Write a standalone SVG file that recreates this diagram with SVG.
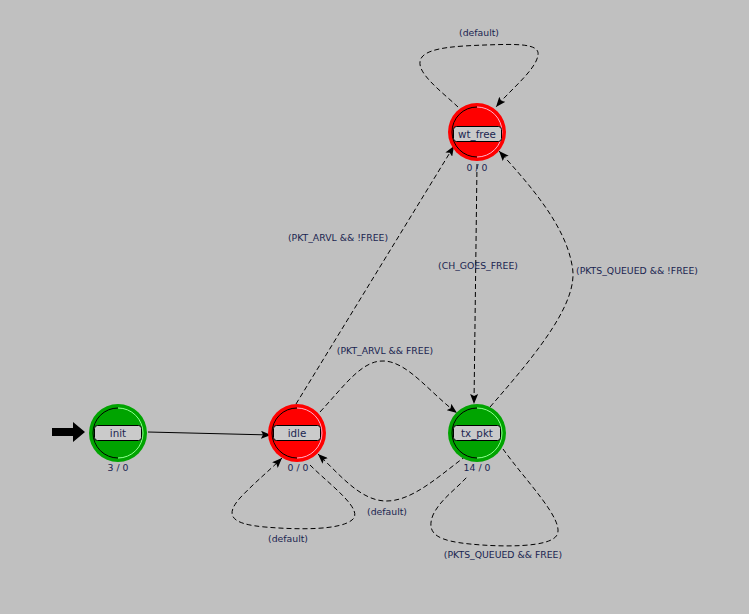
<svg xmlns="http://www.w3.org/2000/svg" width="749" height="614" viewBox="0 0 749 614">
<style>
.bg{fill:#c0c0c0}
.lbl{font-family:"DejaVu Sans","Liberation Sans",sans-serif;font-size:9.3px;fill:#1a2550;text-anchor:middle}
.nm{font-family:"DejaVu Sans","Liberation Sans",sans-serif;font-size:10.3px;fill:#1a2550;text-anchor:middle}
.red{fill:#ff0000}
.green{fill:#00a400}
.dark{fill:none;stroke:#000;stroke-width:1}
.lightr{fill:none;stroke:#ffb0c8;stroke-width:1}
.lightg{fill:none;stroke:#90ff90;stroke-width:1}
.box{fill:#cacaca;stroke:#000;stroke-width:1}
.dash{fill:none;stroke:#000;stroke-width:1;stroke-dasharray:5 3;marker-end:url(#ah)}
.dashn{fill:none;stroke:#000;stroke-width:1;stroke-dasharray:5 3}
.solid{fill:none;stroke:#000;stroke-width:1;marker-end:url(#ah)}
</style>
<defs>
<marker id="ah" markerUnits="userSpaceOnUse" markerWidth="10" markerHeight="8" refX="10" refY="4" orient="auto">
<path d="M0,0 L10,4 L0,8 L2,4 z" fill="#000"/>
</marker>
</defs>
<rect class="bg" x="0" y="0" width="749" height="614"/>
<g id="connectors">
<path d="M52,428 L73,428 L73,422 L85,432 L73,442 L73,436 L52,436 z" fill="#000"/>
<path class="solid" d="M148,432 L271,435"/>
<path class="dash" d="M296,404 L454,146"/>
<path class="dash" d="M320,412 C345,385 362,360 384,361 C408,362 430,393 457,413"/>
<path class="dash" d="M477,164 L474,404"/>
<path class="dash" d="M490,407 C540,350 580,300 572,265 C565,225 530,185 499,151"/>
<path class="dash" d="M466,456 C440,475 412,502 385,501 C360,500 340,475 318,454"/>
<path class="dash" d="M310,465 C330,485 365,510 352,520 C340,530 300,530 265,527 C230,524 225,515 240,498 C255,482 270,470 282,458"/>
<path class="dashn" d="M503,449 C525,480 565,520 557,535 C550,548 500,547 470,544 C440,541 425,535 433,515 C440,500 455,490 467,477"/>
<path class="dash" d="M458,107 C440,90 412,70 422,57 C430,47 460,46 485,45 C515,44 540,43 538,55 C536,70 510,90 496,107"/>
<text class="lbl" x="479" y="36">(default)</text>
<text class="lbl" x="338" y="241">(PKT_ARVL &amp;&amp; !FREE)</text>
<text class="lbl" x="478" y="269">(CH_GOES_FREE)</text>
<text class="lbl" x="637" y="274">(PKTS_QUEUED &amp;&amp; !FREE)</text>
<text class="lbl" x="385" y="354">(PKT_ARVL &amp;&amp; FREE)</text>
<text class="lbl" x="387" y="515">(default)</text>
<text class="lbl" x="288" y="542">(default)</text>
<text class="lbl" x="503" y="558">(PKTS_QUEUED &amp;&amp; FREE)</text>
</g>
<g id="init">
<circle class="green" cx="118" cy="433" r="29"/>
<path class="dark" d="M118,408 A25,25 0 0 0 118,458"/>
<path class="lightg" d="M118,408 A25,25 0 0 1 118,458"/>
<rect class="box" x="94.5" y="425.5" width="47" height="15" rx="3"/>
<text class="nm" x="118" y="437">init</text>
<text class="lbl" x="118" y="471">3 / 0</text>
</g>
<g id="idle">
<circle class="red" cx="297" cy="433" r="29"/>
<path class="dark" d="M297,408 A25,25 0 0 0 297,458"/>
<path class="lightr" d="M297,408 A25,25 0 0 1 297,458"/>
<rect class="box" x="273.5" y="425.5" width="47" height="15" rx="3"/>
<text class="nm" x="297" y="437">idle</text>
<text class="lbl" x="298" y="471">0 / 0</text>
</g>
<g id="tx_pkt">
<circle class="green" cx="477" cy="433" r="29"/>
<path class="dark" d="M477,408 A25,25 0 0 0 477,458"/>
<path class="lightg" d="M477,408 A25,25 0 0 1 477,458"/>
<rect class="box" x="453.5" y="425.5" width="47" height="15" rx="3"/>
<text class="nm" x="477" y="437">tx_pkt</text>
<text class="lbl" x="477" y="471">14 / 0</text>
</g>
<g id="wt_free">
<circle class="red" cx="477" cy="132" r="29"/>
<path class="dark" d="M477,107 A25,25 0 0 0 477,157"/>
<path class="lightr" d="M477,107 A25,25 0 0 1 477,157"/>
<rect class="box" x="453.5" y="126.5" width="48" height="15" rx="3"/>
<text class="nm" x="477" y="138">wt_free</text>
<text class="lbl" x="477" y="171">0 / 0</text>
</g>
</svg>
